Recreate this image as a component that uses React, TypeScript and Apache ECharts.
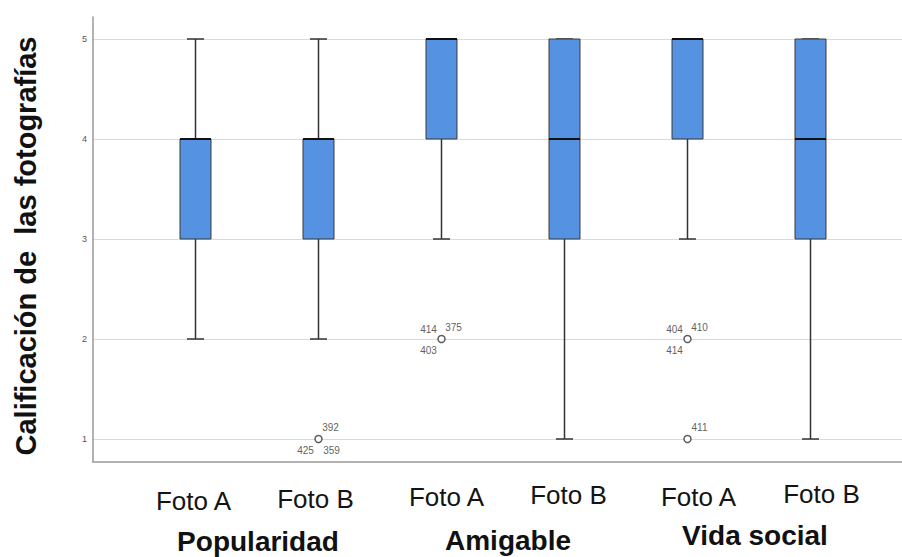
import React, { useEffect, useRef } from "react";
import * as echarts from "echarts";

// ---- data ----
const categories = ["Foto A", "Foto B", "Foto A", "Foto B", "Foto A", "Foto B"];
const groups = ["Popularidad", "Amigable", "Vida social"];
const whiskerLow = [2, 2, 3, 1, 3, 1];
const q1 = [3, 3, 4, 3, 4, 3];
const median = [4, 4, 5, 4, 5, 4];
const q3 = [4, 4, 5, 5, 5, 5];
const whiskerHigh = [5, 5, 5, 5, 5, 5];
const yTicks = [1, 2, 3, 4, 5];
const outlierCat = [1, 2, 4, 4];
const outlierValue = [1, 2, 2, 1];
const outlierIds = [["392", "425", "359"], ["414", "375", "403"], ["404", "410", "414"], ["411"]];
const outlierCorners = [["tr", "bl", "br"], ["tl", "tr", "bl"], ["tl", "tr", "bl"], ["tr"]];
const yTitle = "Calificación de  las fotografías";

// ---- layout constants ----
const cornerOffset: Record<string, [number, number]> = {
  tl: [-13, -10],
  tr: [12, -12],
  bl: [-13, 11],
  br: [13, 11],
};
const labelDy = [18, 14, 10, 6, 9, 4];
const labelDx = [-2, -3, 5, 4, 11, 11];
const groupPos: [number, number][] = [
  [258, 541],
  [508, 540],
  [755, 535],
];

const FONT = "'Liberation Sans', Arial, Helvetica, sans-serif";

export default function App() {
  const ref = useRef<HTMLDivElement>(null);
  useEffect(() => {
    document.body.style.margin = "0";
    const chart = echarts.init(ref.current!, null, { renderer: "svg" });

    const boxData = categories.map((_, i) => [i, whiskerLow[i], q1[i], median[i], q3[i], whiskerHigh[i]]);
    const outlierPts = outlierCat.map((c, k) => [c, outlierValue[k]]);
    const labelPts: any[] = [];
    outlierIds.forEach((ids, k) => {
      ids.forEach((id, j) => {
        const off = cornerOffset[outlierCorners[k][j]];
        labelPts.push({
          value: [outlierCat[k], outlierValue[k]],
          label: { show: true, formatter: id, position: "inside", offset: off },
        });
      });
    });

    const rich: any = {};
    categories.forEach((_, i) => {
      const dx = labelDx[i];
      rich["l" + i] = {
        fontSize: 26,
        fontFamily: FONT,
        color: "#141414",
        lineHeight: 26,
        padding: [labelDy[i], dx < 0 ? -2 * dx : 0, 0, dx > 0 ? 2 * dx : 0],
      };
    });

    const axisLineStyle = { color: "#9a9a9a", width: 1.5 };

    const option: any = {
      animation: false,
      backgroundColor: "#ffffff",
      grid: [
        { left: 93, right: 0, top: 39, height: 400 },
        { left: 93, right: 0, top: 17, height: 445 },
        { left: 134, width: 738, top: 39, height: 400 },
      ],
      xAxis: [
        { gridIndex: 0, type: "value", min: 0, max: 1, show: false },
        {
          gridIndex: 1,
          type: "value",
          min: 0,
          max: 1,
          axisLine: { show: true, lineStyle: axisLineStyle },
          axisTick: { show: false },
          axisLabel: { show: false },
          splitLine: { show: false },
        },
        {
          gridIndex: 2,
          type: "category",
          data: categories,
          axisLine: { show: false },
          axisTick: { show: false },
          splitLine: { show: false },
          axisLabel: {
            interval: 0,
            margin: 40,
            formatter: (v: string, i: number) => `{l${i}|${v}}`,
            rich,
          },
        },
      ],
      yAxis: [
        {
          gridIndex: 0,
          type: "value",
          min: yTicks[0],
          max: yTicks[yTicks.length - 1],
          interval: 1,
          axisLine: { show: false },
          axisTick: { show: false },
          axisLabel: { fontSize: 9, color: "#555", margin: 6, fontFamily: FONT },
          splitLine: { show: true, lineStyle: { color: "#dadada", width: 1 } },
        },
        {
          gridIndex: 1,
          type: "value",
          min: 0,
          max: 1,
          axisLine: { show: true, lineStyle: axisLineStyle },
          axisTick: { show: false },
          axisLabel: { show: false },
          splitLine: { show: false },
        },
        { gridIndex: 2, type: "value", min: yTicks[0], max: yTicks[yTicks.length - 1], show: false },
      ],
      series: [
        {
          type: "custom",
          xAxisIndex: 2,
          yAxisIndex: 2,
          data: boxData,
          encode: { x: 0, y: [1, 2, 3, 4, 5] },
          renderItem: (params: any, api: any) => {
            const i = api.value(0);
            const cx = api.coord([i, api.value(1)])[0];
            const yLow = api.coord([i, api.value(1)])[1];
            const yQ1 = api.coord([i, api.value(2)])[1];
            const yMed = api.coord([i, api.value(3)])[1];
            const yQ3 = api.coord([i, api.value(4)])[1];
            const yHigh = api.coord([i, api.value(5)])[1];
            const band = api.size([1, 0])[0];
            const bw = band * 0.252;
            const cw = band * 0.138;
            const wStyle = { stroke: "#333333", lineWidth: 1.5 };
            return {
              type: "group",
              children: [
                { type: "line", shape: { x1: cx, y1: yLow, x2: cx, y2: yQ1 }, style: wStyle },
                { type: "line", shape: { x1: cx, y1: yQ3, x2: cx, y2: yHigh }, style: wStyle },
                { type: "line", shape: { x1: cx - cw / 2, y1: yLow, x2: cx + cw / 2, y2: yLow }, style: wStyle },
                { type: "line", shape: { x1: cx - cw / 2, y1: yHigh, x2: cx + cw / 2, y2: yHigh }, style: wStyle },
                {
                  type: "rect",
                  shape: { x: cx - bw / 2, y: yQ3, width: bw, height: yQ1 - yQ3 },
                  style: { fill: "#5592e1", stroke: "#3a3a3a", lineWidth: 1 },
                },
                {
                  type: "line",
                  shape: { x1: cx - bw / 2, y1: yMed, x2: cx + bw / 2, y2: yMed },
                  style: { stroke: "#111111", lineWidth: 2 },
                },
              ],
            };
          },
        },
        {
          type: "scatter",
          xAxisIndex: 2,
          yAxisIndex: 2,
          data: outlierPts,
          symbol: "circle",
          symbolSize: 7,
          itemStyle: { color: "#ffffff", borderColor: "#333333", borderWidth: 1.5 },
          z: 5,
        },
        {
          type: "scatter",
          xAxisIndex: 2,
          yAxisIndex: 2,
          data: labelPts,
          symbolSize: 0,
          silent: true,
          label: { show: true, fontSize: 10, color: "#333", fontFamily: FONT },
          z: 6,
        },
      ],
      graphic: [
        {
          type: "text",
          x: 26,
          y: 246,
          rotation: Math.PI / 2,
          style: {
            text: yTitle,
            font: `bold 29px ${FONT}`,
            fill: "#111111",
            align: "center",
            verticalAlign: "middle",
          },
        },
        ...groups.map((g, k) => ({
          type: "text",
          x: groupPos[k][0],
          y: groupPos[k][1],
          style: {
            text: g,
            font: `bold 28px ${FONT}`,
            fill: "#111111",
            align: "center",
            verticalAlign: "middle",
          },
        })),
      ],
    };
    chart.setOption(option);
    return () => chart.dispose();
  }, []);
  return <div ref={ref} style={{ width: 902, height: 557 }} />;
}
